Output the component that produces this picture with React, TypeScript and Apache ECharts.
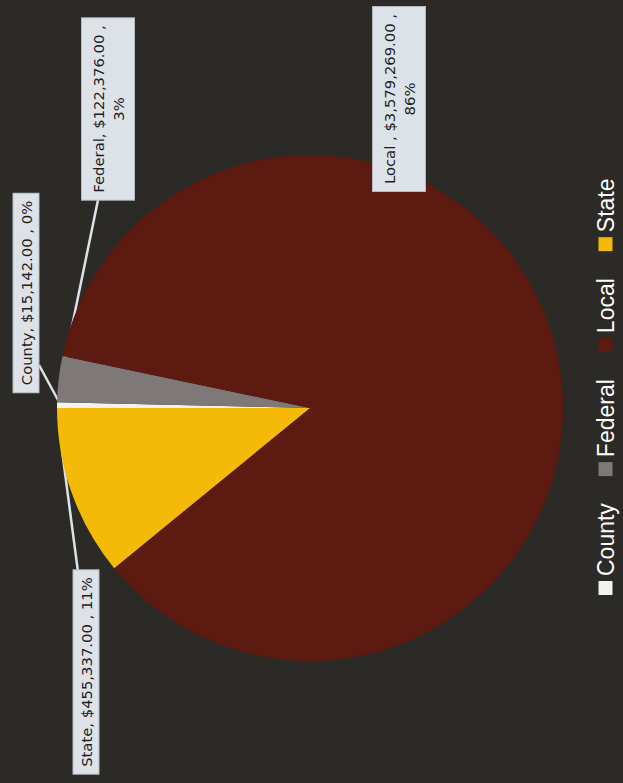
import React, { useEffect, useRef } from 'react';
import * as echarts from 'echarts';

// ---- data ----
const categories = ['County', 'Federal', 'Local', 'State'];
const amounts = [15142, 122376, 3579269, 455337];
const nameSeparators = [', ', ', ', ' , ', ', '];
const breakBeforePercent = [false, true, true, false];
const colors = ['#f2f2f2', '#7e7978', '#5d1a10', '#f5b908'];

// ---- layout (chart drawn in its original landscape orientation, then rotated) ----
const W = 783;
const H = 623;
const CENTER = [375, 310];
const RADIUS = 253;
const labelCenters = [
  [490, 26],
  [674, 108],
  [684, 399],
  [111, 86],
];
const labelAnchors = [
  [418, 39],
  [583, 98],
  [593, 392],
  [211, 78],
];
const labelTips = [
  [383, 58],
  [413, 63],
  [525, 378],
  [333, 62],
];

function formatMoney(v: number) {
  return '$' + v.toLocaleString('en-US', { minimumFractionDigits: 2, maximumFractionDigits: 2 });
}

export default function App() {
  const ref = useRef<HTMLDivElement>(null);
  useEffect(() => {
    if (!ref.current) return;
    const chart = echarts.init(ref.current, null, { renderer: 'svg', width: W, height: H });
    chart.setOption({
      animation: false,
      backgroundColor: '#2b2a27',
      legend: {
        data: categories,
        left: 183,
        top: 589,
        icon: 'rect',
        itemWidth: 14,
        itemHeight: 14,
        itemGap: 27,
        selectedMode: false,
        textStyle: { color: '#ffffff', fontSize: 23, fontFamily: 'Liberation Sans' },
      },
      series: [
        {
          type: 'pie',
          center: CENTER,
          radius: RADIUS,
          startAngle: 90,
          clockwise: true,
          avoidLabelOverlap: false,
          emphasis: { disabled: true },
          data: categories.map((name, i) => ({
            name,
            value: amounts[i],
            itemStyle: { color: colors[i] },
            label: breakBeforePercent[i]
              ? { lineHeight: 20, padding: [6, 7] }
              : { lineHeight: 17, padding: [4, 7] },
          })),
          label: {
            show: true,
            position: 'outside',
            formatter: (p: any) => {
              const i = p.dataIndex;
              const pct = Math.round(p.percent) + '%';
              return (
                p.name +
                nameSeparators[i] +
                formatMoney(p.value) +
                ' ,' +
                (breakBeforePercent[i] ? '\n' : ' ') +
                pct
              );
            },
            color: '#1e1e1e',
            fontFamily: 'DejaVu Sans',
            fontSize: 14.8,
            backgroundColor: '#dde1e8',
            borderColor: '#b5bac2',
            borderWidth: 1,
            align: 'center',
          },
          labelLine: {
            show: true,
            length: 10,
            length2: 10,
            lineStyle: { color: '#dde1e8', width: 2.5 },
          },
          labelLayout: (p: any) => {
            const i = p.dataIndex;
            const tip = labelTips[i];
            const anc = labelAnchors[i];
            return {
              x: labelCenters[i][0],
              y: labelCenters[i][1],
              align: 'center',
              verticalAlign: 'middle',
              labelLinePoints: [tip, [(tip[0] + anc[0]) / 2, (tip[1] + anc[1]) / 2], anc],
            };
          },
        },
      ],
    });
    return () => chart.dispose();
  }, []);
  return (
    <div
      style={{
        position: 'fixed',
        left: 0,
        top: 0,
        width: H,
        height: W,
        overflow: 'hidden',
        background: '#2b2a27',
      }}
    >
      <div
        ref={ref}
        style={{
          position: 'absolute',
          left: 0,
          top: 0,
          width: W,
          height: H,
          transformOrigin: '0 0',
          transform: `translateY(${W}px) rotate(-90deg)`,
        }}
      />
    </div>
  );
}
